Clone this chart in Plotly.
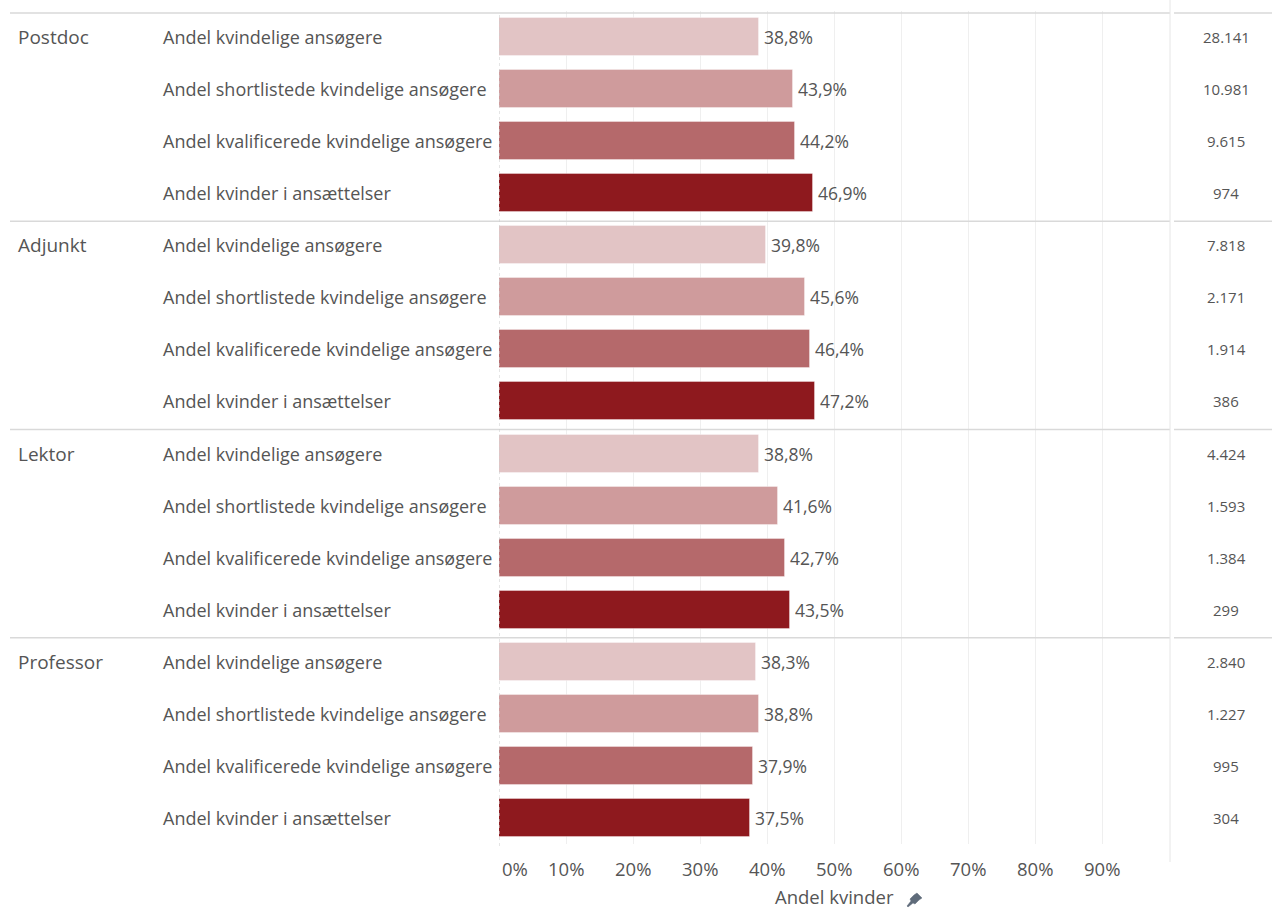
import plotly.graph_objects as go

# Source data
groups = ["Postdoc", "Adjunkt", "Lektor", "Professor"]
measures = [
    "Andel kvindelige ansøgere",
    "Andel shortlistede kvindelige ansøgere",
    "Andel kvalificerede kvindelige ansøgere",
    "Andel kvinder i ansættelser",
]
measure_colors = ["#E2C4C5", "#CF9B9C", "#B5696B", "#8E191E"]

pct_postdoc = [38.8, 43.9, 44.2, 46.9]
pct_adjunkt = [39.8, 45.6, 46.4, 47.2]
pct_lektor = [38.8, 41.6, 42.7, 43.5]
pct_professor = [38.3, 38.8, 37.9, 37.5]

n_postdoc = [28141, 10981, 9615, 974]
n_adjunkt = [7818, 2171, 1914, 386]
n_lektor = [4424, 1593, 1384, 299]
n_professor = [2840, 1227, 995, 304]

x_ticks = [0, 10, 20, 30, 40, 50, 60, 70, 80, 90]
axis_title = "Andel kvinder"

pct_by_group = [pct_postdoc, pct_adjunkt, pct_lektor, pct_professor]
n_by_group = [n_postdoc, n_adjunkt, n_lektor, n_professor]

TEXT = "#555555"
FONT = "Open Sans"

# Page geometry (pixels)
W, H = 1272, 910
L, R, T, B = 499, 1169, 11, 844
PW, PH = R - L, B - T
ROW_PX = PH / 16.0
SEP_OFFSET = 2.0 / ROW_PX  # separators sit slightly below the row grid


def px(xp):
    return (xp - L) / PW


def py(yp):
    return (B - yp) / PH


def pct_label(v):
    return f"{v:.1f}".replace(".", ",") + "%"


def count_label(n):
    return f"{n:,}".replace(",", ".")


n_rows = len(groups) * len(measures)
fig = go.Figure()

for m, measure in enumerate(measures):
    ys = [g * len(measures) + m for g in range(len(groups))]
    xs = [pct_by_group[g][m] for g in range(len(groups))]
    fig.add_trace(go.Bar(
        x=xs, y=ys, orientation="h", width=0.73,
        marker=dict(color=measure_colors[m],
                    line=dict(color="rgba(255,255,255,0.35)", width=1)),
        name=measure, showlegend=False, hoverinfo="skip",
    ))

annotations = []
for g, group in enumerate(groups):
    base = g * len(measures)
    annotations.append(dict(
        x=px(16), xref="paper", y=base, yref="y", text=group,
        xanchor="left", yanchor="middle", showarrow=False,
        font=dict(family=FONT, size=19, color=TEXT),
    ))
    for m, measure in enumerate(measures):
        row = base + m
        v = pct_by_group[g][m]
        annotations.append(dict(
            x=px(161), xref="paper", y=row, yref="y", text=measure,
            xanchor="left", yanchor="middle", showarrow=False,
            font=dict(family=FONT, size=18, color=TEXT),
        ))
        annotations.append(dict(
            x=v, xref="x", y=row, yref="y", text=pct_label(v),
            xanchor="left", yanchor="middle", showarrow=False, xshift=3,
            font=dict(family=FONT, size=17.5, color=TEXT),
        ))
        annotations.append(dict(
            x=px(1226), xref="paper", y=row, yref="y",
            text=count_label(n_by_group[g][m]),
            xanchor="center", yanchor="middle", showarrow=False,
            font=dict(family=FONT, size=15, color=TEXT),
        ))

# Axis tick labels
for t in x_ticks:
    annotations.append(dict(
        x=t, xref="x", y=py(868), yref="paper", text=f"{t}%",
        xanchor="center", yanchor="middle", showarrow=False,
        xshift=16 if t == 0 else 0,
        font=dict(family=FONT, size=18.5, color=TEXT),
    ))
annotations.append(dict(
    x=px(834), xref="paper", y=py(911), yref="paper", text=axis_title,
    xanchor="center", yanchor="bottom", showarrow=False,
    font=dict(family=FONT, size=18.5, color=TEXT),
))

shapes = []
LINE = "#d9d9d9"
# Horizontal group separators
for b in range(len(groups) + 1):
    yv = b * len(measures) - 0.5 + SEP_OFFSET
    shapes.append(dict(type="line", xref="paper", yref="y",
                       x0=px(10), x1=px(1170), y0=yv, y1=yv,
                       line=dict(color=LINE, width=1.5)))
    shapes.append(dict(type="line", xref="paper", yref="y",
                       x0=px(1174), x1=px(1272), y0=yv, y1=yv,
                       line=dict(color=LINE, width=1.5)))
# Column dividers
shapes.append(dict(type="line", xref="paper", yref="paper",
                   x0=px(1170), x1=px(1170), y0=py(862), y1=py(0),
                   line=dict(color="#e6e6e6", width=1)))
shapes.append(dict(type="line", xref="x", yref="paper",
                   x0=0, x1=0, y0=py(846), y1=py(13),
                   line=dict(color="#cccccc", width=1, dash="dot")))

# Pin icon next to the axis title
pin = [(917, 893), (922, 898), (919, 900), (915, 904), (913, 903),
       (908, 907), (907, 906), (911, 901), (910, 899), (914, 895)]
path = "M " + " L ".join(f"{px(a):.5f},{py(b):.5f}" for a, b in pin) + " Z"
shapes.append(dict(type="path", xref="paper", yref="paper", path=path,
                   fillcolor="#5f6b7a", line=dict(color="#5f6b7a", width=0.5)))

fig.update_layout(
    width=W, height=H,
    margin=dict(l=L, r=W - R, t=T, b=H - B),
    paper_bgcolor="white", plot_bgcolor="white",
    bargap=0,
    xaxis=dict(range=[0, 100], tickvals=x_ticks, showticklabels=False,
               showgrid=True, gridcolor="#efefef", gridwidth=1,
               zeroline=False, showline=False, fixedrange=True),
    yaxis=dict(range=[n_rows - 0.5, -0.5], showticklabels=False,
               showgrid=False, zeroline=False, showline=False, fixedrange=True),
    annotations=annotations,
    shapes=shapes,
)

fig.write_html("out.html")
